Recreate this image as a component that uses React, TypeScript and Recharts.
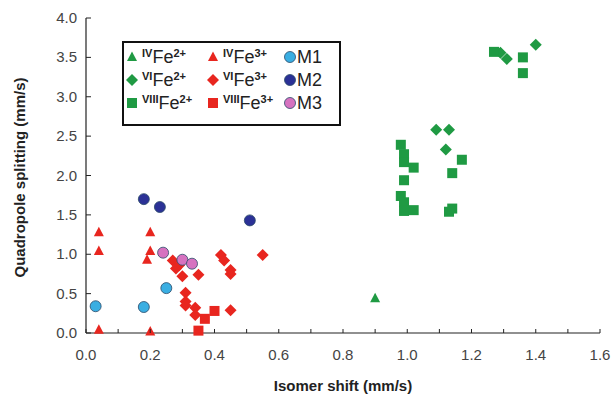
import { Legend, Scatter, ScatterChart, XAxis, YAxis } from 'recharts';

// [isomer shift, quadrupole splitting]
const ivFe2 = [[0.9, 0.44]];
const viFe2 = [
  [1.09, 2.58], [1.13, 2.58], [1.12, 2.33],
  [1.4, 3.66], [1.29, 3.56], [1.31, 3.48],
];
const viiiFe2 = [
  [0.98, 2.39], [0.99, 2.27], [0.99, 2.17], [1.02, 2.1], [0.99, 1.94],
  [0.98, 1.74], [0.99, 1.66], [0.99, 1.55], [1.02, 1.56],
  [1.14, 2.03], [1.17, 2.2], [1.13, 1.54], [1.14, 1.58],
  [1.27, 3.57], [1.36, 3.5], [1.36, 3.3],
];
const ivFe3 = [
  [0.04, 1.28], [0.04, 1.04], [0.2, 1.28], [0.2, 1.04], [0.19, 0.93],
  [0.04, 0.04], [0.2, 0.02],
];
const viFe3 = [
  [0.27, 0.92], [0.29, 0.86], [0.28, 0.82], [0.3, 0.72], [0.35, 0.74],
  [0.42, 0.99], [0.43, 0.92], [0.45, 0.8], [0.45, 0.75], [0.55, 0.99],
  [0.31, 0.51], [0.31, 0.4], [0.31, 0.35], [0.34, 0.32], [0.34, 0.23], [0.45, 0.29],
];
const viiiFe3 = [[0.4, 0.28], [0.37, 0.18], [0.35, 0.03]];
const m1 = [[0.03, 0.34], [0.18, 0.33], [0.25, 0.57]];
const m2 = [[0.18, 1.7], [0.23, 1.6], [0.51, 1.43]];
const m3 = [[0.24, 1.02], [0.3, 0.93], [0.33, 0.88]];

const xTicks = [0, 0.1, 0.2, 0.3, 0.4, 0.5, 0.6, 0.7, 0.8, 0.9, 1, 1.1, 1.2, 1.3, 1.4, 1.5, 1.6];
const yTicks = [0, 0.5, 1, 1.5, 2, 2.5, 3, 3.5, 4];

const GREEN = '#1f9a43';
const RED = '#e8261f';

const toPoints = (arr: number[][]) => arr.map(([x, y]) => ({ x, y }));

function Marker({ kind, color, cx, cy }: { kind: string; color: string; cx: number; cy: number }) {
  if (kind === 'triangle') {
    return <polygon points={`${cx},${cy - 5.5} ${cx - 5},${cy + 4} ${cx + 5},${cy + 4}`} fill={color} />;
  }
  if (kind === 'diamond') {
    return <polygon points={`${cx},${cy - 6} ${cx + 6},${cy} ${cx},${cy + 6} ${cx - 6},${cy}`} fill={color} />;
  }
  if (kind === 'square') {
    return <rect x={cx - 5} y={cy - 5} width={10} height={10} fill={color} />;
  }
  return <circle cx={cx} cy={cy} r={5.5} fill={color} stroke="#2b4a6a" strokeWidth={0.8} />;
}

const series = [
  { key: 'iv2', data: ivFe2, kind: 'triangle', color: GREEN, pre: 'IV', label: 'Fe', sup: '2+' },
  { key: 'vi2', data: viFe2, kind: 'diamond', color: GREEN, pre: 'VI', label: 'Fe', sup: '2+' },
  { key: 'viii2', data: viiiFe2, kind: 'square', color: GREEN, pre: 'VIII', label: 'Fe', sup: '2+' },
  { key: 'iv3', data: ivFe3, kind: 'triangle', color: RED, pre: 'IV', label: 'Fe', sup: '3+' },
  { key: 'vi3', data: viFe3, kind: 'diamond', color: RED, pre: 'VI', label: 'Fe', sup: '3+' },
  { key: 'viii3', data: viiiFe3, kind: 'square', color: RED, pre: 'VIII', label: 'Fe', sup: '3+' },
  { key: 'm1', data: m1, kind: 'circle', color: '#3aaee2', pre: '', label: 'M1', sup: '' },
  { key: 'm2', data: m2, kind: 'circle', color: '#2b3196', pre: '', label: 'M2', sup: '' },
  { key: 'm3', data: m3, kind: 'circle', color: '#d672c0', pre: '', label: 'M3', sup: '' },
];

function XTick({ x, y, payload }: any) {
  const v = payload.value;
  const major = Math.round(v * 10) % 2 === 0;
  return (
    <g>
      <line x1={x} x2={x} y1={y} y2={y - 4} stroke="#222" />
      {major && (
        <text x={x} y={y + 27} textAnchor="middle" fontSize={15} fill="#444">
          {v.toFixed(1)}
        </text>
      )}
    </g>
  );
}

function YTick({ x, y, payload }: any) {
  return (
    <g>
      <line x1={x} x2={x + 5} y1={y} y2={y} stroke="#222" />
      <text x={x - 9} y={y + 5} textAnchor="end" fontSize={15} fill="#444">
        {payload.value.toFixed(1)}
      </text>
    </g>
  );
}

function LegendBox() {
  const cols = [series.slice(0, 3), series.slice(3, 6), series.slice(6, 9)];
  const colX = [4, 85, 162];
  return (
    <svg width={219} height={85} style={{ display: 'block' }}>
      <rect x={1} y={1} width={217} height={83} fill="#fff" stroke="#111" strokeWidth={2} />
      {cols.map((col, ci) =>
        col.map((s, ri) => {
          const cy = 16 + ri * 23;
          const mx = colX[ci] + 6;
          return (
            <g key={s.key}>
              <Marker kind={s.kind} color={s.color} cx={mx} cy={cy} />
              <text x={mx + (s.pre ? 10 : 7)} y={cy + 6} fontSize={18} fill="#222" fontFamily="Liberation Sans, Arial, sans-serif">
                {s.pre && (
                  <tspan fontSize={11} fontWeight="bold" dy={-6}>
                    {s.pre}
                  </tspan>
                )}
                <tspan dy={s.pre ? 6 : 0}>{s.label}</tspan>
                {s.sup && (
                  <tspan fontSize={11} fontWeight="bold" dy={-6}>
                    {s.sup}
                  </tspan>
                )}
              </text>
            </g>
          );
        })
      )}
    </svg>
  );
}

export default function App() {
  return (
    <div style={{ position: 'absolute', left: 0, top: 0, background: '#fff', fontFamily: 'Liberation Sans, Arial, sans-serif' }}>
      <ScatterChart width={615} height={395} margin={{ top: 18, right: 15, bottom: 0, left: 0 }}>
        <XAxis
          type="number"
          dataKey="x"
          domain={[0, 1.6]}
          ticks={xTicks}
          interval={0}
          height={62}
          tickSize={0}
          tickMargin={0}
          tickLine={false}
          tick={<XTick />}
          axisLine={{ stroke: '#222', strokeWidth: 1.2 }}
          label={{ value: 'Isomer shift (mm/s)', position: 'insideBottom', offset: 4, fontSize: 15, fontWeight: 'bold', fill: '#222' }}
        />
        <XAxis xAxisId="top" orientation="top" type="number" domain={[0, 1.6]} height={0} tick={false} tickLine={false} axisLine={{ stroke: '#222', strokeWidth: 1.2 }} />
        <YAxis
          type="number"
          dataKey="y"
          domain={[0, 4]}
          ticks={yTicks}
          interval={0}
          width={86}
          tickSize={0}
          tickMargin={0}
          tickLine={false}
          tick={<YTick />}
          axisLine={{ stroke: '#222', strokeWidth: 1.2 }}
          label={{ value: 'Quadropole splitting (mm/s)', angle: -90, position: 'insideLeft', offset: 20, dy: 102, fontSize: 15, fontWeight: 'bold', fill: '#222' }}
        />
        <YAxis yAxisId="right" orientation="right" type="number" domain={[0, 4]} width={0} tick={false} tickLine={false} axisLine={{ stroke: '#222', strokeWidth: 1.2 }} />
        <Legend
          layout="vertical"
          align="center"
          verticalAlign="middle"
          content={() => <LegendBox />}
          wrapperStyle={{ left: 122, top: 41, width: 219, height: 85, bottom: 'auto' }}
        />
        {series.map((s) => (
          <Scatter
            key={s.key}
            name={s.key}
            data={toPoints(s.data)}
            isAnimationActive={false}
            shape={(p: any) => <Marker kind={s.kind} color={s.color} cx={p.cx} cy={p.cy} />}
          />
        ))}
      </ScatterChart>
    </div>
  );
}
